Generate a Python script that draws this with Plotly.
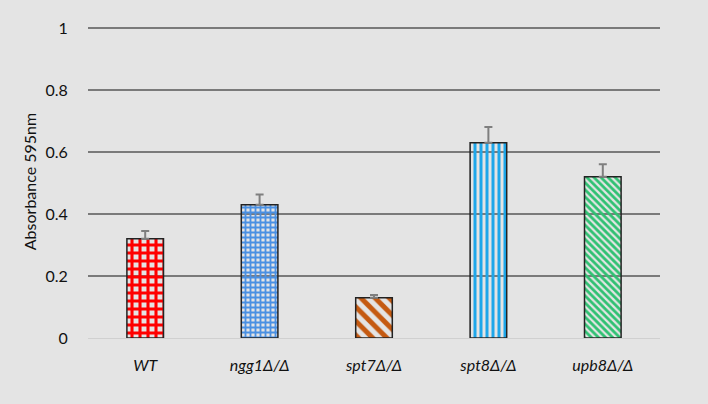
import plotly.graph_objects as go

categories = ["WT", "ngg1Δ/Δ", "spt7Δ/Δ", "spt8Δ/Δ", "upb8Δ/Δ"]
values = [0.32, 0.43, 0.13, 0.63, 0.52]
errors = [0.025, 0.033, 0.009, 0.051, 0.041]
fill_colors = ["#ff0000", "#4a90e2", "#c55a11", "#1ea7ea", "#2fc172"]
pattern_shapes = ["+", "+", "\\", "|", "\\"]
pattern_sizes = [8, 5, 10, 6, 5]
pattern_solidity = [0.62, 0.6, 0.5, 0.5, 0.55]

fig = go.Figure()
fig.add_trace(go.Bar(
    x=[f"<i>{c}</i>" for c in categories],
    y=values,
    width=0.32,
    marker=dict(
        color=fill_colors,
        line=dict(color="#222222", width=1.5),
        pattern=dict(
            shape=pattern_shapes,
            fgcolor=fill_colors,
            bgcolor="#ffffff",
            fgopacity=1,
            size=pattern_sizes,
            solidity=pattern_solidity,
            fillmode="replace",
        ),
    ),
    error_y=dict(type="data", symmetric=False, array=errors, arrayminus=[0] * len(errors),
                 visible=True, color="#7f7f7f", thickness=2, width=4),
))

fig.update_layout(
    width=708, height=404,
    margin=dict(l=88, r=48, t=25, b=66),
    paper_bgcolor="#e4e4e4",
    plot_bgcolor="#e4e4e4",
    showlegend=False,
    bargap=0.68,
    font=dict(family="Lato, Open Sans, sans-serif", size=16, color="#111111"),
)
fig.update_yaxes(
    range=[0, 1.01],
    tickvals=[0, 0.2, 0.4, 0.6, 0.8, 1],
    ticktext=["0", "0.2", "0.4", "0.6", "0.8", "1"],
    showgrid=True, gridcolor="#7a7a7a", gridwidth=1.5,
    zeroline=True, zerolinecolor="#d0d0d0", zerolinewidth=1,
    showline=False,
    ticks="outside", ticklen=16, tickcolor="rgba(0,0,0,0)",
    title=dict(text="Absorbance 595nm", font=dict(size=16), standoff=4),
)
fig.update_xaxes(
    showgrid=False, showline=False,
    ticks="outside", ticklen=13, tickcolor="rgba(0,0,0,0)",
    tickfont=dict(size=16),
)

fig.write_html("out.html", config={"displayModeBar": False},
               post_script="document.body.style.margin='0';document.body.style.background='#e4e4e4';")
